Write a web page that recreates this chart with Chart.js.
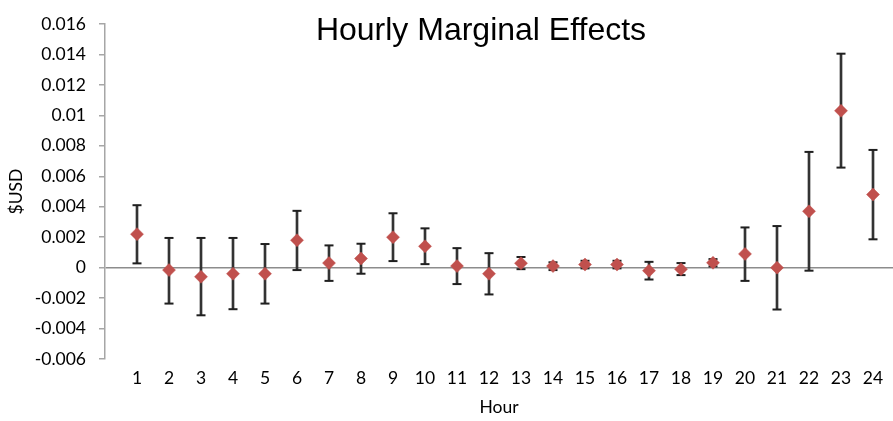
<!DOCTYPE html>
<html>
<head>
<meta charset="utf-8">
<script src="https://cdn.jsdelivr.net/npm/chart.js@4.4.0/dist/chart.umd.min.js"></script>
<style>
html,body{margin:0;padding:0;background:#fff;}
#wrap{width:893px;height:421px;}
</style>
</head>
<body>
<div id="wrap"><canvas id="c" width="893" height="421"></canvas></div>
<script>
const chartTitle = 'Hourly Marginal Effects';
const xTitle = 'Hour';
const yTitle = '$USD';
const hours = [1,2,3,4,5,6,7,8,9,10,11,12,13,14,15,16,17,18,19,20,21,22,23,24];
const xTickLabels = ['1','2','3','4','5','6','7','8','9','10','11','12','13','14','15','16','17','18','19','20','21','22','23','24'];
const effect = [0.0022,-0.00016,-0.0006,-0.0004,-0.0004,0.0018,0.0003,0.0006,0.002,0.0014,0.0001,-0.0004,0.00029,0.0001,0.0002,0.0002,-0.0002,-0.0001,0.00032,0.0009,0.0,0.0037,0.0103,0.0048];
const upper  = [0.0041,0.00195,0.00195,0.00195,0.00155,0.00373,0.00146,0.00157,0.00357,0.00258,0.00128,0.00095,0.0007,0.00035,0.00045,0.00045,0.00038,0.0003,0.00056,0.00264,0.00273,0.0076,0.01405,0.00773];
const lower  = [0.00028,-0.00236,-0.00313,-0.00273,-0.00236,-0.00016,-0.00087,-0.0004,0.00043,0.00023,-0.00108,-0.00176,-0.0001,-0.00016,-0.00005,-0.00005,-0.00078,-0.00049,0.00008,-0.00087,-0.00275,-0.0002,0.00657,0.00186];
const yTickValues = [-0.006,-0.004,-0.002,0,0.002,0.004,0.006,0.008,0.01,0.012,0.014,0.016];
const yTickLabels = ['-0.006','-0.004','-0.002','0','0.002','0.004','0.006','0.008','0.01','0.012','0.014','0.016'];

const tickFont = {family: 'Lato, "Open Sans", sans-serif', size: 17.5};

const titlePlugin = {
  id: 'topTitle',
  afterDraw(chart) {
    const ctx = chart.ctx;
    ctx.save();
    ctx.font = '32px "Liberation Sans", Arial, sans-serif';
    ctx.fillStyle = '#000';
    ctx.textAlign = 'center';
    ctx.textBaseline = 'alphabetic';
    ctx.fillText(chartTitle, 481, 40);
    ctx.restore();
  }
};

new Chart(document.getElementById('c'), {
  type: 'scatter',
  data: {
    datasets: [
      {
        type: 'scatter',
        label: 'Effect',
        data: hours.map((h, i) => ({x: h, y: effect[i]})),
        pointStyle: 'rectRot',
        pointRadius: 6.5,
        backgroundColor: '#C0504D',
        borderColor: '#C0504D',
        borderWidth: 0.5,
        order: 0
      },
      {
        type: 'scatter',
        label: 'Caps',
        data: hours.map((h, i) => ({x: h, y: upper[i]})).concat(hours.map((h, i) => ({x: h, y: lower[i]}))),
        pointStyle: 'line',
        pointRadius: 4.5,
        borderColor: '#1f1f1f',
        borderWidth: 2,
        order: 1
      },
      {
        type: 'bar',
        label: 'Range',
        data: hours.map((h, i) => ({x: h, y: [lower[i], upper[i]]})),
        barThickness: 2,
        backgroundColor: '#333333',
        borderWidth: 0,
        order: 2
      }
    ]
  },
  options: {
    responsive: false,
    animation: false,
    devicePixelRatio: 1,
    events: [],
    layout: {autoPadding: false, padding: {top: 24, right: 0, left: 0, bottom: 0}},
    plugins: {legend: {display: false}, tooltip: {enabled: false}, title: {display: false}},
    scales: {
      x: {
        type: 'linear',
        min: 0,
        max: 24.625,
        offset: false,
        afterBuildTicks: s => { s.ticks = hours.map(h => ({value: h})); },
        ticks: {callback: (v, i) => xTickLabels[i], autoSkip: false, maxRotation: 0, font: tickFont, color: '#000', padding: 9},
        grid: {display: false, drawTicks: false, offset: false},
        border: {display: false},
        title: {display: true, text: xTitle, font: tickFont, color: '#000', padding: {top: 0, bottom: 3}},
        afterFit: s => { s.height = 62; s.paddingLeft = 0; s.paddingRight = 0; }
      },
      y: {
        type: 'linear',
        min: -0.006,
        max: 0.016,
        afterBuildTicks: s => { s.ticks = yTickValues.map(v => ({value: v})); },
        ticks: {callback: (v, i) => yTickLabels[i], font: tickFont, color: '#000', padding: 13},
        grid: {
          drawOnChartArea: true,
          color: c => (c.tick && c.tick.value === 0) ? '#8c8c8c' : 'rgba(0,0,0,0)',
          lineWidth: 1.5,
          drawTicks: true,
          tickLength: 6,
          tickColor: '#a6a6a6',
          tickWidth: 1.5
        },
        border: {display: true, color: '#a6a6a6', width: 1.5},
        title: {display: true, text: yTitle, font: tickFont, color: '#000', padding: {top: 6, bottom: 0}},
        afterFit: s => { s.width = 105; s.paddingTop = 0; s.paddingBottom = 0; }
      }
    }
  },
  plugins: [titlePlugin]
});
</script>
</body>
</html>
